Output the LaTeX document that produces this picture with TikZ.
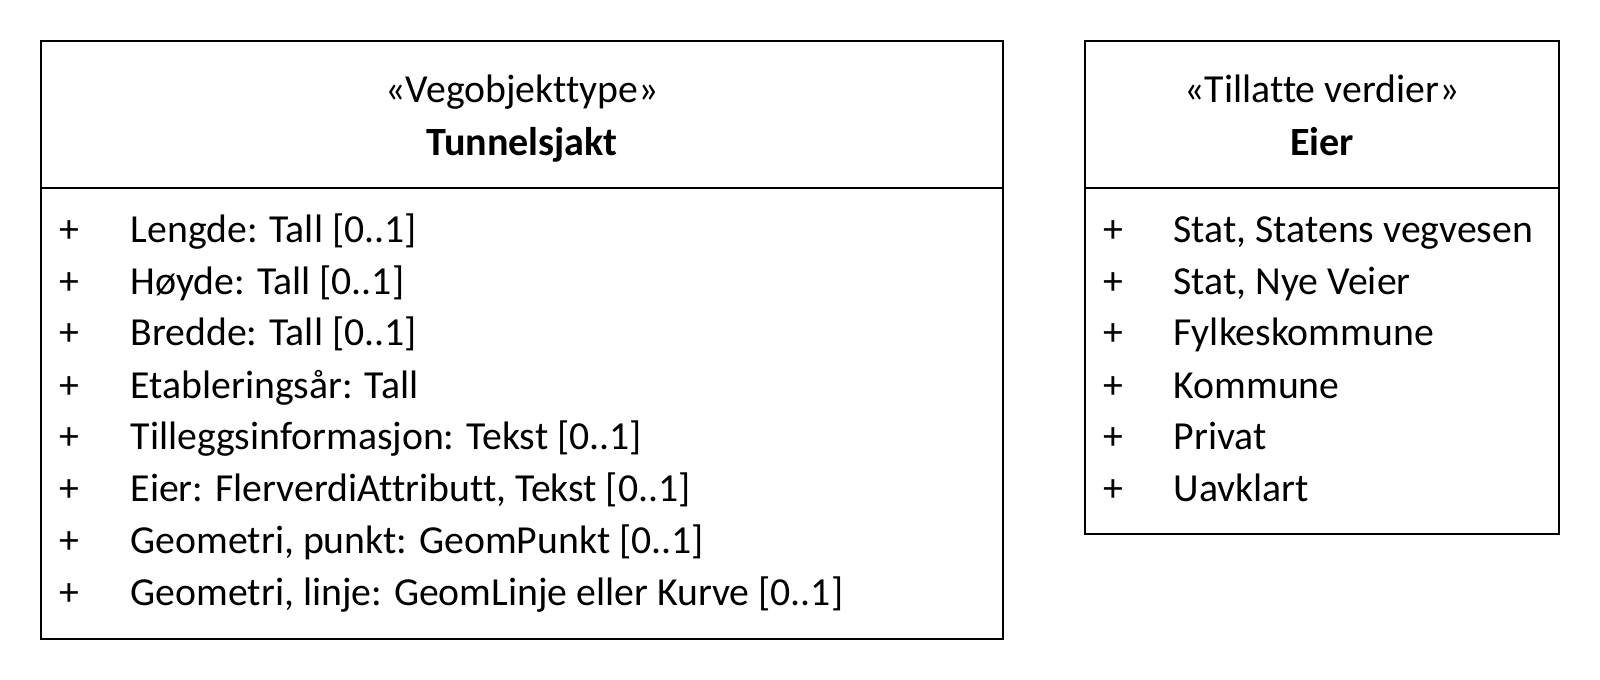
\documentclass[tikz,border=0pt]{standalone}
\usepackage{fontspec}
\setmainfont[Ligatures=NoCommon]{Carlito}

\tikzset{
  umltxt/.style={inner sep=0pt,font=\fontsize{11.3}{13.5}\selectfont},
  attr/.style={umltxt,anchor=base west},
  vis/.style={umltxt,anchor=base},
  head/.style={umltxt,anchor=base},
}

\begin{document}
\begin{tikzpicture}[x=0.01cm,y=-0.01cm]
\useasboundingbox (0,0) rectangle (1600,680);
% Tunnelsjakt
\draw (41,41) rectangle (1003,639);
\draw (41,188) -- (1003,188);
\node[head] (stereoT) at (522,103) {«Vegobjekttype»};
\node[head,font=\fontsize{11.4}{13.5}\selectfont\bfseries] (nameT) at (522,156) {Tunnelsjakt};
\node[vis] (visT1) at (69,243) {+}; \node[attr] (attrT1) at (130,243) {Lengde: Tall [0..1]};
\node[vis] (visT2) at (69,295) {+}; \node[attr] (attrT2) at (130,295) {Høyde: Tall [0..1]};
\node[vis] (visT3) at (69,346) {+}; \node[attr] (attrT3) at (130,346) {Bredde: Tall [0..1]};
\node[vis] (visT4) at (69,399) {+}; \node[attr] (attrT4) at (130,399) {Etableringsår: Tall};
\node[vis] (visT5) at (69,450) {+}; \node[attr] (attrT5) at (130,450) {Tilleggsinformasjon: Tekst [0..1]};
\node[vis] (visT6) at (69,502) {+}; \node[attr] (attrT6) at (130,502) {Eier: FlerverdiAttributt, Tekst [0..1]};
\node[vis] (visT7) at (69,554) {+}; \node[attr] (attrT7) at (130,554) {Geometri, punkt: GeomPunkt [0..1]};
\node[vis] (visT8) at (69,606) {+}; \node[attr] (attrT8) at (130,606) {Geometri, linje: GeomLinje eller Kurve [0..1]};
% Eier
\draw (1085,41) rectangle (1559,534);
\draw (1085,188) -- (1559,188);
\node[head] (stereoE) at (1322,103) {«Tillatte verdier»};
\node[head,font=\fontsize{11.4}{13.5}\selectfont\bfseries] (nameE) at (1322,156) {Eier};
\node[vis] (visE1) at (1113,243) {+}; \node[attr] (valE1) at (1173,243) {Stat, Statens vegvesen};
\node[vis] (visE2) at (1113,295) {+}; \node[attr] (valE2) at (1173,295) {Stat, Nye Veier};
\node[vis] (visE3) at (1113,346) {+}; \node[attr] (valE3) at (1173,346) {Fylkeskommune};
\node[vis] (visE4) at (1113,399) {+}; \node[attr] (valE4) at (1173,399) {Kommune};
\node[vis] (visE5) at (1113,450) {+}; \node[attr] (valE5) at (1173,450) {Privat};
\node[vis] (visE6) at (1113,502) {+}; \node[attr] (valE6) at (1173,502) {Uavklart};
\end{tikzpicture}
\end{document}
